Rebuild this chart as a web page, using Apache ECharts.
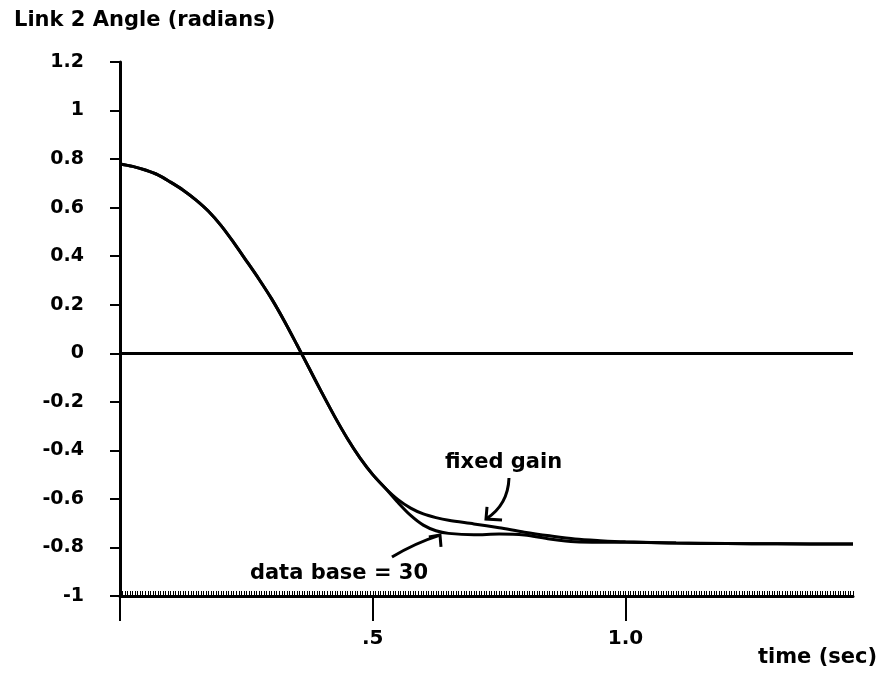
<!DOCTYPE html>
<html>
<head>
<meta charset="utf-8">
<script src="https://cdn.jsdelivr.net/npm/echarts@6/dist/echarts.min.js"></script>
<style>
  html, body { margin: 0; padding: 0; background: #fff; }
  #chart { width: 882px; height: 675px; }
</style>
</head>
<body>
<div id="chart"></div>
<script>
// Link 2 joint angle response, shared part of both runs (s, rad)
const timeCommon  = [0, 0.025, 0.05, 0.075, 0.1, 0.125, 0.15, 0.175, 0.2, 0.225, 0.25, 0.275, 0.3, 0.325, 0.35, 0.375, 0.4, 0.425, 0.45, 0.475, 0.5, 0.525];
const angleCommon = [0.78, 0.77, 0.755, 0.735, 0.705, 0.672, 0.632, 0.585, 0.526, 0.456, 0.381, 0.305, 0.224, 0.133, 0.035, -0.065, -0.165, -0.262, -0.352, -0.432, -0.5, -0.556];

// Where the two controllers separate
const timeTail      = [0.55, 0.575, 0.6, 0.625, 0.65, 0.7, 0.75, 0.8, 0.85, 0.9, 0.95, 1.0, 1.1, 1.2, 1.3, 1.45];
const fixedGainTail = [-0.603, -0.638, -0.662, -0.677, -0.688, -0.703, -0.719, -0.737, -0.752, -0.765, -0.772, -0.777, -0.782, -0.784, -0.785, -0.786];
const dataBaseTail  = [-0.615, -0.668, -0.708, -0.731, -0.742, -0.748, -0.745, -0.749, -0.765, -0.777, -0.779, -0.779, -0.782, -0.784, -0.785, -0.786];

// Axis ticks and labels
const yTicks = [-1, -0.8, -0.6, -0.4, -0.2, 0, 0.2, 0.4, 0.6, 0.8, 1, 1.2];
const yTickText = ['-1', '-0.8', '-0.6', '-0.4', '-0.2', '0', '0.2', '0.4', '0.6', '0.8', '1', '1.2'];
const xMajorTicks = [0, 0.5, 1.0];
const xLabelTicks = [0.5, 1.0];
const xLabelText = ['.5', '1.0'];

const FONT = 'DejaVu Sans';
const INK = '#000';

function pairs(ts, vs) { return ts.map((t, i) => [t, vs[i]]); }
const fixedGainData = pairs(timeCommon, angleCommon).concat(pairs(timeTail, fixedGainTail));
const dataBaseData  = pairs(timeCommon, angleCommon).concat(pairs(timeTail, dataBaseTail));

const chart = echarts.init(document.getElementById('chart'), null, { renderer: 'canvas' });

const xMin = 0, xMax = 1.45;

chart.setOption({
  animation: false,
  backgroundColor: '#fff',
  grid: { left: 120, right: 29, top: 62, bottom: 79, containLabel: false },
  xAxis: [
    {
      type: 'value', min: xMin, max: xMax, interval: 0.5, position: 'bottom',
      axisLine: { show: true, onZero: false, lineStyle: { color: INK, width: 3 } },
      axisTick: { show: true, inside: false, length: 25, customValues: xMajorTicks, lineStyle: { color: INK, width: 2 } },
      axisLabel: {
        show: true, margin: 33, customValues: xLabelTicks,
        formatter: v => { const i = xLabelTicks.findIndex(t => Math.abs(t - v) < 1e-9); return i >= 0 ? xLabelText[i] : ''; },
        color: INK, fontFamily: FONT, fontWeight: 'bold', fontSize: 20
      },
      splitLine: { show: false }
    },
    {
      // dense inner scale along the time axis
      type: 'value', min: xMin, max: xMax, interval: 0.005, position: 'bottom',
      axisLine: { show: false, onZero: false },
      axisTick: { show: true, inside: true, length: 5, lineStyle: { color: INK, width: 1 } },
      axisLabel: { show: false },
      splitLine: { show: false }
    }
  ],
  yAxis: {
    type: 'value', min: -1, max: 1.2, interval: 0.2,
    axisLine: { show: true, onZero: false, lineStyle: { color: INK, width: 3 } },
    axisTick: { show: true, inside: false, length: 10, lineStyle: { color: INK, width: 2 } },
    axisLabel: {
      margin: 36, color: INK, fontFamily: FONT, fontWeight: 'bold', fontSize: 19,
      formatter: v => { const i = yTicks.findIndex(t => Math.abs(t - v) < 1e-9); return i >= 0 ? yTickText[i] : ''; }
    },
    splitLine: { show: false }
  },
  series: [
    {
      name: 'fixed gain', type: 'line', data: fixedGainData, xAxisIndex: 0,
      showSymbol: false, smooth: 0.3, lineStyle: { color: INK, width: 3 },
      markLine: {
        silent: true, symbol: 'none', label: { show: false },
        lineStyle: { color: INK, width: 3, type: 'solid' },
        data: [{ yAxis: 0 }]
      },
      z: 3
    },
    {
      name: 'data base = 30', type: 'line', data: dataBaseData, xAxisIndex: 0,
      showSymbol: false, smooth: 0.3, lineStyle: { color: INK, width: 3 },
      z: 3
    }
  ]
});

// Annotation labels and pointer arrows, anchored in data space
const toPx = p => chart.convertToPixel({ gridIndex: 0 }, p);
function arrow(tail, ctrl, tip, headA, headB) {
  const a = toPx(tail), c = toPx(ctrl), b = toPx(tip), h1 = toPx(headA), h2 = toPx(headB);
  return [
    { type: 'bezierCurve', shape: { x1: a[0], y1: a[1], cpx1: c[0], cpy1: c[1], x2: b[0], y2: b[1] },
      style: { stroke: INK, lineWidth: 3, fill: null }, z: 10 },
    { type: 'polyline', shape: { points: [h1, b, h2] },
      style: { stroke: INK, lineWidth: 3, fill: null }, z: 10 }
  ];
}
function label(text, at) {
  const p = toPx(at);
  return { type: 'text', x: p[0], y: p[1], z: 10,
    style: { text, fill: INK, font: 'bold 21px "' + FONT + '"', textVerticalAlign: 'middle', textAlign: 'left' } };
}

chart.setOption({
  graphic: [
    { type: 'text', left: 14, top: 10,
      style: { text: 'Link 2 Angle (radians)', fill: INK, font: 'bold 21px "' + FONT + '"' } },
    { type: 'text', left: 758, top: 647,
      style: { text: 'time (sec)', fill: INK, font: 'bold 21px "' + FONT + '"' } },
    label('fixed gain', [0.643, -0.45]),
    label('data base = 30', [0.257, -0.909]),
    ...arrow([0.7695, -0.514], [0.7676, -0.625], [0.724, -0.683], [0.726, -0.633], [0.7557, -0.687]),
    ...arrow([0.538, -0.839], [0.5836, -0.782], [0.633, -0.749], [0.611, -0.757], [0.635, -0.798])
  ]
});
</script>
</body>
</html>
